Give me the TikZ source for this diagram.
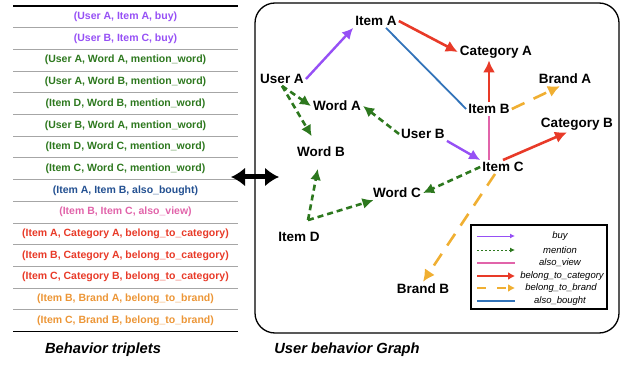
\documentclass[tikz,border=0pt]{standalone}
\usepackage{fontspec}
\setmainfont{Liberation Sans}
\usetikzlibrary{arrows.meta, calc}

\definecolor{buyc}{RGB}{150,80,245}
\definecolor{mentc}{RGB}{45,120,30}
\definecolor{viewc}{RGB}{225,100,170}
\definecolor{catc}{RGB}{232,58,40}
\definecolor{brandc}{RGB}{240,175,50}
\definecolor{brandtxt}{RGB}{236,150,55}
\definecolor{boughtc}{RGB}{50,115,185}
\definecolor{boughttxt}{RGB}{35,80,145}

\tikzset{
	ent/.style={font=\fontsize{13.5}{15}\selectfont\bfseries, inner sep=2pt},
	triple/.style={font=\fontsize{10.5}{12}\selectfont\bfseries, inner sep=1pt},
	legtext/.style={font=\fontsize{9.5}{11}\selectfont\itshape, inner sep=1pt},
	title/.style={font=\fontsize{14.7}{17}\selectfont\bfseries\itshape},
	buy/.style={-{Latex[length=11pt,width=11pt]}, buyc, line width=2.4pt},
	mention/.style={-{Latex[length=11pt,width=11pt]}, mentc, line width=2.6pt,
		dash pattern=on 6pt off 4pt},
	alsoview/.style={viewc, line width=1.8pt},
	category/.style={-{Latex[length=12pt,width=12pt]}, catc, line width=2.6pt},
	brand/.style={-{Latex[length=12pt,width=12pt]}, brandc, line width=2.6pt,
		dash pattern=on 14pt off 10pt},
	bought/.style={boughtc, line width=1.8pt}
}

\begin{document}
\begin{tikzpicture}[x=1pt, y=-1pt]
	\useasboundingbox (0,0) rectangle (621,366);
	\def \rowh {21.7}

	% triplet table
	\foreach \t/\c [count=\i] in {
		{(User A, Item A, buy)}/buyc,
		{(User B, Item C, buy)}/buyc,
		{(User A, Word A, mention\_word)}/mentc,
		{(User A, Word B, mention\_word)}/mentc,
		{(Item D, Word B, mention\_word)}/mentc,
		{(User B, Word A, mention\_word)}/mentc,
		{(Item D, Word C, mention\_word)}/mentc,
		{(Item C, Word C, mention\_word)}/mentc,
		{(Item A, Item B, also\_bought)}/boughttxt,
		{(Item B, Item C, also\_view)}/viewc,
		{(Item A, Category A, belong\_to\_category)}/catc,
		{(Item B, Category A, belong\_to\_category)}/catc,
		{(Item C, Category B, belong\_to\_category)}/catc,
		{(Item B, Brand A, belong\_to\_brand)}/brandtxt,
		{(Item C, Brand B, belong\_to\_brand)}/brandtxt}
	{
		\node[triple, text=\c] (row\i) at (125.5, {6+\rowh*(\i-0.5)}) {\t};
	}
	\foreach \i in {1,...,14}
		\draw[gray!70, line width=0.8pt] (13, {6+\rowh*\i}) -- (238, {6+\rowh*\i});
	\draw[line width=1.6pt] (13,6) -- (238,6);
	\draw[line width=1.6pt] (13,331.5) -- (238,331.5);

	% graph frame and legend
	\node[draw, rounded corners=20pt, line width=1.3pt, inner sep=0pt,
		minimum width=364pt, minimum height=330pt] (graph) at (437,168) {};
	\node[draw, line width=1.3pt, inner sep=0pt,
		minimum width=136pt, minimum height=84pt] (legend) at (539,267) {};

	\coordinate (tabR) at (231,177);
	\coordinate (boxL) at (279,177);
	\draw[{Latex[length=14pt,width=19pt]}-{Latex[length=14pt,width=19pt]},
		line width=5pt] (tabR) -- (boxL);

	% entities
	\node[ent] (itemA) at (376,21) {Item A};
	\node[ent] (catA)  at (496,52) {Category A};
	\node[ent] (userA) at (282,79) {User A};
	\node[ent] (brandA) at (565,79) {Brand A};
	\node[ent] (wordA) at (337,106) {Word A};
	\node[ent] (itemB) at (489,109) {Item B};
	\node[ent] (userB) at (423,134) {User B};
	\node[ent] (catB)  at (577,124) {Category B};
	\node[ent] (wordB) at (321,152) {Word B};
	\node[ent] (itemC) at (503,167) {Item C};
	\node[ent] (wordC) at (397,193) {Word C};
	\node[ent] (itemD) at (299,237) {Item D};
	\node[ent] (brandB) at (423,289) {Brand B};

	\coordinate (dStart) at ([xshift=9pt, yshift=10pt]itemD.north);

	% relations
	\draw[buy] (userA.east) -- (itemA.south west);
	\draw[buy] (userB.south east) -- (itemC.north west);
	\draw[mention] (userA.south) -- (wordA.west);
	\draw[mention, shorten >=10pt] (userA.south) -- (wordB);
	\draw[mention] (userB.west) -- (wordA.east);
	\draw[mention, shorten >=10pt] (dStart) -- (wordB);
	\draw[mention] (dStart) -- (wordC);
	\draw[mention] (itemC.west) -- (wordC.east);
	\draw[bought] ([xshift=10pt]itemA.south) -- (itemB.west);
	\draw[alsoview] (itemB.south) -- (itemB.south |- itemC.north);
	\draw[category] (itemA.east) -- (catA.west);
	\draw[category] (itemB.north) -- (itemB.north |- catA.south);
	\draw[category] (itemC.north) -- ([xshift=-10pt]catB.south);
	\draw[brand] (itemB.east) -- ([xshift=-5pt]brandA.south);
	\draw[brand] ([xshift=-8pt]itemC.south) -- (brandB.north);

	% legend entries
	\draw[buy, line width=1pt, -{Latex[length=5pt,width=5pt]}] (477,236) -- (515,236);
	\draw[mention, line width=1pt, dash pattern=on 2pt off 2pt,
		-{Latex[length=5pt,width=5pt]}] (477,250) -- (515,250);
	\draw[alsoview, line width=2pt] (477,263) -- (515,263);
	\draw[category, line width=2pt, -{Latex[length=7pt,width=8pt]}] (477,276) -- (515,276);
	\draw[brand, line width=1.5pt, dash pattern=on 9pt off 11pt,
		-{Latex[length=7pt,width=8pt]}] (477,288) -- (515,288);
	\draw[bought, line width=2pt] (477,301) -- (515,301);
	\node[legtext] (lgBuy)    at (560,236) {buy};
	\node[legtext] (lgMent)   at (560,250) {mention};
	\node[legtext] (lgView)   at (560,263) {also\_view};
	\node[legtext] (lgCat)    at (562,276) {belong\_to\_category};
	\node[legtext] (lgBrand)  at (561,288) {belong\_to\_brand};
	\node[legtext] (lgBought) at (560,301) {also\_bought};

	% captions
	\node[title] (tripTitle)  at (103,350) {Behavior triplets};
	\node[title] (graphTitle) at (347,350) {User behavior Graph};
\end{tikzpicture}
\end{document}
